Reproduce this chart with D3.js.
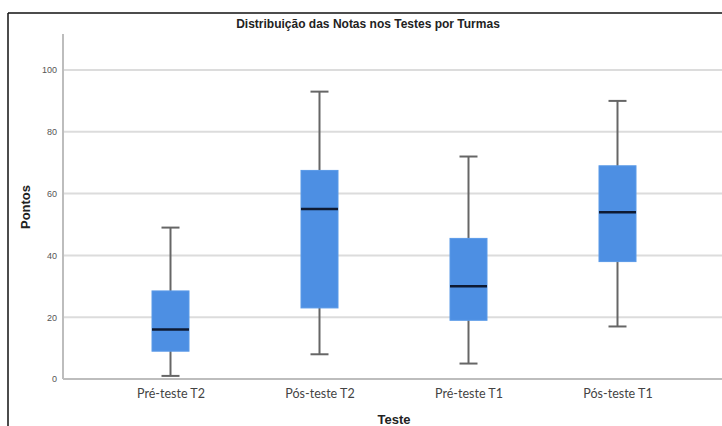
<!DOCTYPE html>
<html>
<head>
<meta charset="utf-8">
<script src="https://cdn.jsdelivr.net/npm/d3@7/dist/d3.min.js"></script>
<style>
  html, body { margin: 0; padding: 0; background: #fff; overflow: hidden; }
  svg { display: block; }
</style>
</head>
<body>
<svg id="chart" width="722" height="426"></svg>
<script>
const categories = ["Pré-teste T2", "Pós-teste T2", "Pré-teste T1", "Pós-teste T1"];
const minValues    = [1, 8, 5, 17];
const q1Values     = [9, 23, 19, 38];
const medianValues = [16, 55, 30, 54];
const q3Values     = [28.5, 67.5, 45.5, 69];
const maxValues    = [49, 93, 72, 90];
const yTicks = [0, 20, 40, 60, 80, 100];
const titleText = "Distribuição das Notas nos Testes por Turmas";
const xTitle = "Teste";
const yTitle = "Pontos";

const data = categories.map((c, i) => ({
  cat: c, min: minValues[i], q1: q1Values[i], med: medianValues[i], q3: q3Values[i], max: maxValues[i]
}));

const svg = d3.select("#chart");
const axisX = 63, plotRight = 722, axisTop = 34;

const y = d3.scaleLinear().domain([0, 100]).range([379, 70]);
const x = d3.scalePoint().domain(categories).range([96, 692]).padding(0.5);

// outer frame (top and left edges only visible)
svg.append("line").attr("x1", 8).attr("x2", 722).attr("y1", 13).attr("y2", 13)
  .attr("stroke", "#111").attr("stroke-width", 1.5);
svg.append("line").attr("x1", 8).attr("x2", 8).attr("y1", 13).attr("y2", 426)
  .attr("stroke", "#111").attr("stroke-width", 1.5);

// title
svg.append("text").attr("x", 368).attr("y", 28).attr("text-anchor", "middle")
  .attr("font-family", "Liberation Sans, Arial, sans-serif").attr("font-weight", "bold")
  .attr("font-size", 12).attr("fill", "#222").text(titleText);

// gridlines
svg.append("g").selectAll("line").data(yTicks.filter(d => d > 0)).join("line")
  .attr("x1", axisX).attr("x2", plotRight)
  .attr("y1", d => y(d)).attr("y2", d => y(d))
  .attr("stroke", "#dcdcdc").attr("stroke-width", 2);

// y axis
const yAxis = d3.axisLeft(y).tickValues(yTicks).tickSize(0).tickPadding(6);
const gy = svg.append("g").attr("transform", `translate(${axisX},0)`).call(yAxis);
gy.select(".domain").remove();
gy.selectAll("text").attr("font-family", "Liberation Sans, Arial, sans-serif")
  .attr("font-size", 9).attr("fill", "#555");
svg.append("line").attr("x1", axisX).attr("x2", axisX).attr("y1", axisTop).attr("y2", y(0))
  .attr("stroke", "#bdbdbd").attr("stroke-width", 2);

// x axis
const xAxis = d3.axisBottom(x).tickSize(0).tickPadding(10);
const gx = svg.append("g").attr("transform", `translate(0,${y(0)})`).call(xAxis);
gx.select(".domain").remove();
gx.selectAll("text").attr("font-family", "Lato, 'Open Sans', sans-serif")
  .attr("font-size", 12.5).attr("fill", "#444");
svg.append("line").attr("x1", axisX).attr("x2", plotRight).attr("y1", y(0)).attr("y2", y(0))
  .attr("stroke", "#bdbdbd").attr("stroke-width", 2);

// axis titles
svg.append("text").attr("x", 394).attr("y", 424).attr("text-anchor", "middle")
  .attr("font-family", "Liberation Sans, Arial, sans-serif").attr("font-weight", "bold")
  .attr("font-size", 13).attr("fill", "#222").text(xTitle);
svg.append("text").attr("transform", "translate(30,207) rotate(-90)").attr("text-anchor", "middle")
  .attr("font-family", "Liberation Sans, Arial, sans-serif").attr("font-weight", "bold")
  .attr("font-size", 13).attr("fill", "#222").text(yTitle);

// boxes
const boxW = 37, capW = 18;
const g = svg.append("g").selectAll("g").data(data).join("g");
g.append("line").attr("x1", d => x(d.cat)).attr("x2", d => x(d.cat))
  .attr("y1", d => y(d.max)).attr("y2", d => y(d.min))
  .attr("stroke", "#666").attr("stroke-width", 2);
g.append("line").attr("x1", d => x(d.cat) - capW / 2).attr("x2", d => x(d.cat) + capW / 2)
  .attr("y1", d => y(d.max)).attr("y2", d => y(d.max))
  .attr("stroke", "#666").attr("stroke-width", 2);
g.append("line").attr("x1", d => x(d.cat) - capW / 2).attr("x2", d => x(d.cat) + capW / 2)
  .attr("y1", d => y(d.min)).attr("y2", d => y(d.min))
  .attr("stroke", "#666").attr("stroke-width", 2);
g.append("rect").attr("x", d => x(d.cat) - boxW / 2).attr("width", boxW)
  .attr("y", d => y(d.q3)).attr("height", d => y(d.q1) - y(d.q3))
  .attr("fill", "#4d8fe3").attr("stroke", "#5a9ae8").attr("stroke-width", 1);
g.append("line").attr("x1", d => x(d.cat) - boxW / 2).attr("x2", d => x(d.cat) + boxW / 2)
  .attr("y1", d => y(d.med)).attr("y2", d => y(d.med))
  .attr("stroke", "#0e1a33").attr("stroke-width", 2.5);
</script>
</body>
</html>
